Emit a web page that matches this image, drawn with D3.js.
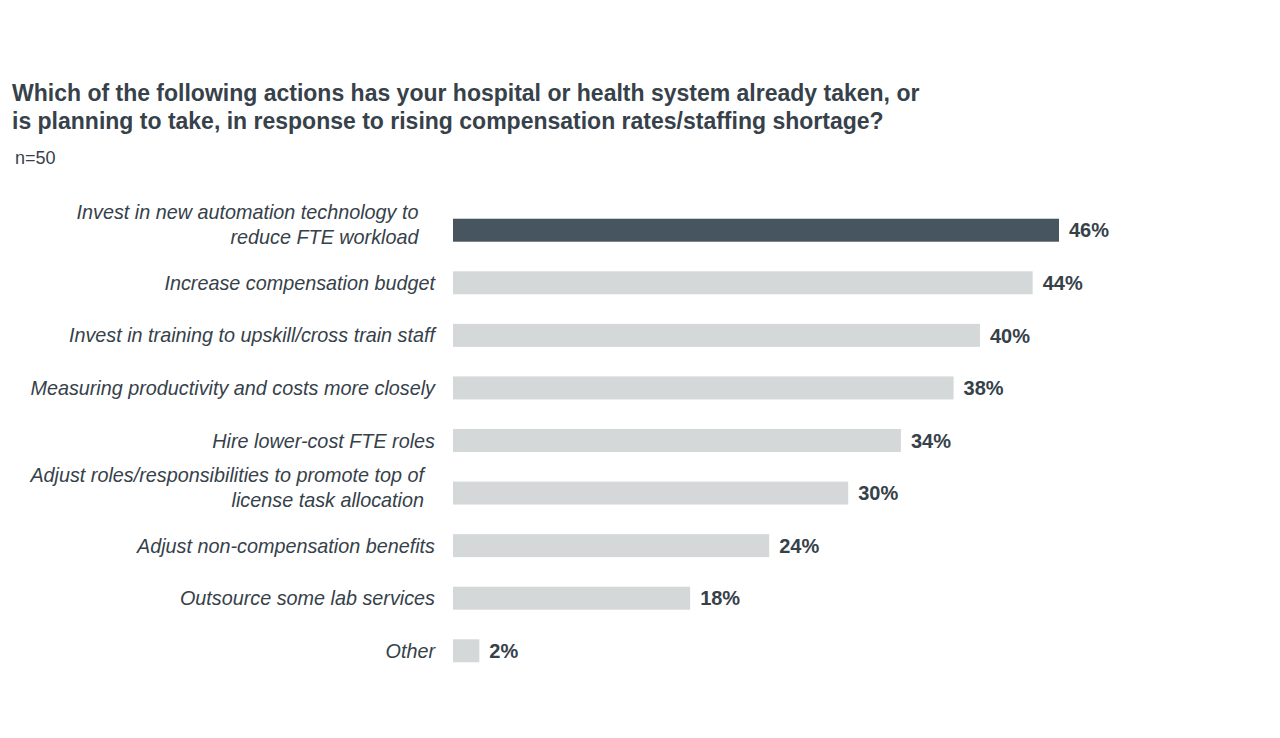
<!DOCTYPE html>
<html>
<head>
<meta charset="utf-8">
<script src="https://cdn.jsdelivr.net/npm/d3@7"></script>
<style>
  body { margin: 0; background: #fff; }
  svg { display: block; font-family: "Liberation Sans", Arial, sans-serif; }
  .label { white-space: pre; }
</style>
</head>
<body>
<div id="chart"></div>
<script>
var titleLines = [
    'Which of the following actions has your hospital or health system already taken, or',
    'is planning to take, in response to rising compensation rates/staffing shortage?'
];
var sampleNote = 'n=50';

// each category may wrap onto two lines (trailing spaces kept as in the source slide)
var categories = [
    ['Invest in new automation technology to   ', 'reduce FTE workload   '],
    ['Increase compensation budget'],
    ['Invest in training to upskill/cross train staff'],
    ['Measuring productivity and costs more closely'],
    ['Hire lower-cost FTE roles'],
    ['Adjust roles/responsibilities to promote top of  ', 'license task allocation  '],
    ['Adjust non-compensation benefits'],
    ['Outsource some lab services'],
    ['Other']
];
var values = [46, 44, 40, 38, 34, 30, 24, 18, 2];
var highlighted = [true, false, false, false, false, false, false, false, false];

var width = 1280, height = 738;
var textColor = '#36414a';

var svg = d3.select('#chart').append('svg')
    .attr('width', width)
    .attr('height', height);

// title
svg.append('g').selectAll('text')
    .data(titleLines)
    .enter().append('text')
    .attr('x', 12)
    .attr('y', function (d, i) { return 101 + i * 28; })
    .attr('font-size', 23)
    .attr('font-weight', 'bold')
    .attr('fill', textColor)
    .text(function (d) { return d; });

svg.append('text')
    .attr('x', 15)
    .attr('y', 164)
    .attr('font-size', 18)
    .attr('fill', textColor)
    .text(sampleNote);

var x = d3.scaleLinear().domain([0, 46]).range([453, 1059]);
var y = d3.scaleBand()
    .domain(d3.range(categories.length))
    .range([204, 677])
    .paddingInner(0.5625)
    .paddingOuter(0.28);

var rows = svg.append('g').selectAll('g.row')
    .data(values)
    .enter().append('g')
    .attr('class', 'row')
    .attr('transform', function (d, i) { return 'translate(0,' + y(i) + ')'; });

rows.append('rect')
    .attr('x', x(0))
    .attr('y', 0)
    .attr('width', function (d) { return x(d) - x(0); })
    .attr('height', y.bandwidth())
    .attr('fill', function (d, i) { return highlighted[i] ? '#465560' : '#d5d8d9'; });

rows.append('text')
    .attr('x', function (d) { return x(d) + 10; })
    .attr('y', y.bandwidth() / 2)
    .attr('dy', '0.36em')
    .attr('font-size', 20)
    .attr('font-weight', 'bold')
    .attr('fill', textColor)
    .text(function (d) { return d + '%'; });

// category labels, right aligned next to the bars; wrapped ones sit a bit high
rows.append('text')
    .attr('class', 'label')
    .attr('text-anchor', 'end')
    .attr('font-size', 19.8)
    .attr('font-style', 'italic')
    .attr('fill', textColor)
    .each(function (d, i) {
        var lines = categories[i];
        var first = lines.length > 1 ? -18 : 0;
        d3.select(this).selectAll('tspan')
            .data(lines)
            .enter().append('tspan')
            .attr('x', 435)
            .attr('y', function (l, j) { return y.bandwidth() / 2 + first + j * 24.5; })
            .attr('dy', '0.36em')
            .text(function (l) { return l; });
    });
</script>
</body>
</html>
